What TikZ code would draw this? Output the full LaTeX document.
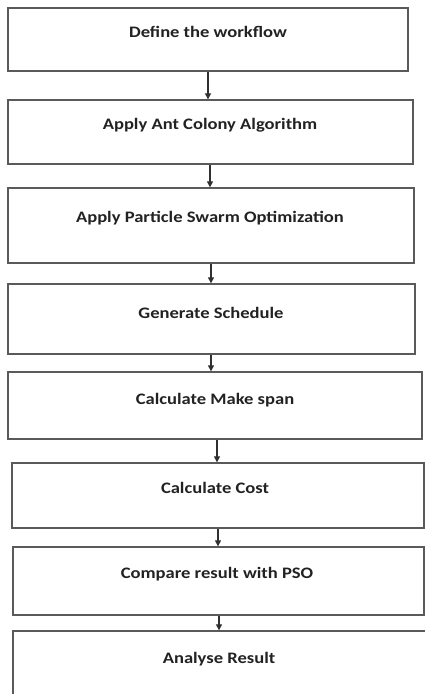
\documentclass[tikz,border=0pt]{standalone}
\usepackage{fontspec}
\usepackage{graphicx}
\setmainfont{Carlito}
\usetikzlibrary{arrows.meta,calc}
\definecolor{boxline}{HTML}{5A5A5A}
\definecolor{arrline}{HTML}{303030}
\definecolor{txt}{HTML}{222222}
\newcommand{\stretchtxt}[1]{\scalebox{1.16}[1]{#1}}
\tikzset{
  stepbox/.style={draw=boxline, line width=1.3pt, rectangle, inner sep=0pt},
  steptext/.style={font=\bfseries\fontsize{16}{18}\selectfont, text=txt, inner sep=0pt, anchor=center},
  flow/.style={draw=arrline, line width=1.1pt, -{Triangle[length=6pt,width=6pt]}}
}
\newcommand{\stepnode}[5]{%
  \node[stepbox, minimum width={(#4-#2)*1pt}, minimum height={(#5-#3)*1pt}] (#1) at ({(#2+#4)/2},{(#3+#5)/2}) {};
}
\begin{document}
\begin{tikzpicture}[x=1pt,y=-1pt]
\useasboundingbox (0,0) rectangle (425,694);
\clip (0,0) rectangle (425,694);
\fill[white] (0,0) rectangle (425,694);
\stepnode{b1}{8}{8}{408}{71}
\stepnode{b2}{8}{100}{413}{164}
\stepnode{b3}{8}{188}{414}{263}
\stepnode{b4}{8}{284}{415}{354}
\stepnode{b5}{8}{372}{422}{439}
\stepnode{b6}{12}{463}{424}{528}
\stepnode{b7}{13}{547}{424}{615}
\stepnode{b8}{13}{631}{440}{730}
\node[steptext] (t1) at (208,32) {\stretchtxt{Define the workflow}};
\node[steptext] (t2) at (210,125) {\stretchtxt{Apply Ant Colony Algorithm}};
\node[steptext] (t3) at (210,218) {\stretchtxt{Apply Particle Swarm Optimization}};
\node[steptext] (t4) at (211,313) {\stretchtxt{Generate Schedule}};
\node[steptext] (t5) at (215,400) {\stretchtxt{Calculate Make span}};
\node[steptext] (t6) at (215,488) {\stretchtxt{Calculate Cost}};
\node[steptext] (t7) at (217,574) {\stretchtxt{Compare result with PSO}};
\node[steptext] (t8) at (219,659) {\stretchtxt{Analyse Result}};
\draw[flow] (b1.south) -- (b1.south |- b2.north);
\draw[flow] ([xshift=-0.5pt]b2.south) -- ([xshift=-0.5pt]b2.south |- b3.north);
\draw[flow] (b3.south) -- (b3.south |- b4.north);
\draw[flow] ([xshift=-0.5pt]b4.south) -- ([xshift=-0.5pt]b4.south |- b5.north);
\draw[flow] ([xshift=2pt]b5.south) -- ([xshift=2pt]b5.south |- b6.north);
\draw[flow] (b6.south) -- (b6.south |- b7.north);
\draw[flow] ([xshift=0.5pt]b7.south) -- ([xshift=0.5pt]b7.south |- b8.north);
\end{tikzpicture}
\end{document}
